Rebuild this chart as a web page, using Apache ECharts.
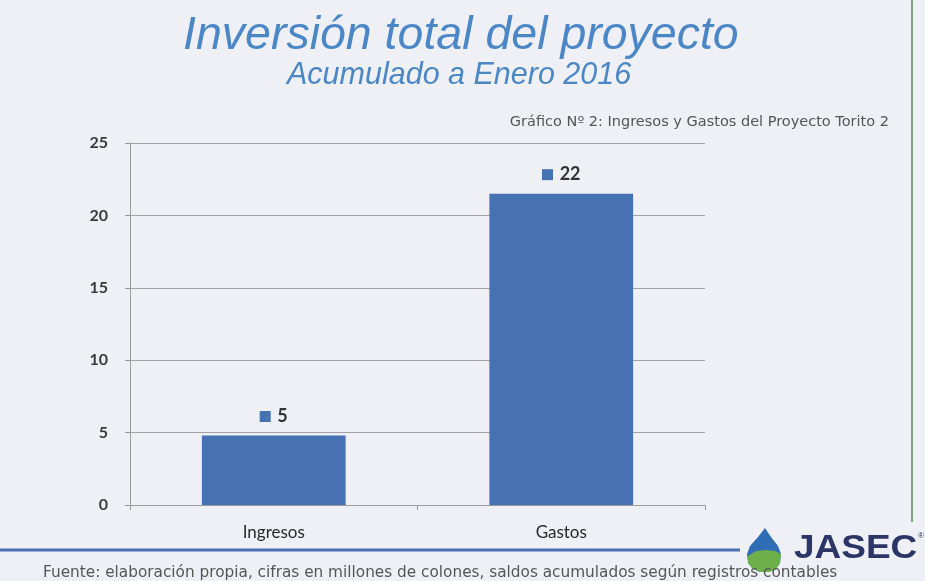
<!DOCTYPE html>
<html>
<head>
<meta charset="utf-8">
<script src="https://cdn.jsdelivr.net/npm/echarts@6/dist/echarts.min.js"></script>
<style>
html,body{margin:0;padding:0;background:#eef0f5;}
#chart{width:925px;height:581px;}
</style>
</head>
<body>
<div id="chart"></div>
<script>
const categories = ['Ingresos', 'Gastos'];
const values = [4.8, 21.5];
const yTicks = [0, 5, 10, 15, 20, 25];

const chart = echarts.init(document.getElementById('chart'));
const blue = '#4672b4';

chart.setOption({
  backgroundColor: '#eef0f5',
  animation: false,
  title: [
    {
      text: 'Inversión total del proyecto',
      left: 178, top: 8,
      textStyle: {fontFamily: 'Liberation Sans', fontStyle: 'italic', fontWeight: 'normal', fontSize: 46.5, color: '#4b86c6'}
    },
    {
      text: 'Acumulado a Enero 2016',
      left: 282, top: 56,
      textStyle: {fontFamily: 'Liberation Sans', fontStyle: 'italic', fontWeight: 'normal', fontSize: 30.5, color: '#4b86c6'}
    },
    {
      text: 'Gráfico Nº 2: Ingresos y Gastos del Proyecto Torito 2',
      right: 31, top: 110,
      textStyle: {fontFamily: 'DejaVu Sans', fontWeight: 'normal', fontSize: 14.5, color: '#555'}
    },
    {
      text: 'Fuente: elaboración propia, cifras en millones de colones, saldos acumulados según registros contables',
      left: 38, top: 561,
      textStyle: {fontFamily: 'DejaVu Sans', fontWeight: 'normal', fontSize: 15.3, color: '#555'}
    }
  ],
  grid: {left: 130, right: 220, top: 143, bottom: 76, containLabel: false},
  xAxis: {
    type: 'category',
    data: categories,
    axisLine: {show: true, lineStyle: {color: '#9a9a9a', width: 1}},
    axisTick: {show: true, alignWithLabel: false, length: 5, lineStyle: {color: '#9a9a9a'}},
    axisLabel: {fontFamily: 'Lato', fontSize: 17, color: '#2a2a2a', margin: 19}
  },
  yAxis: {
    type: 'value',
    min: yTicks[0], max: yTicks[yTicks.length - 1], interval: 5,
    axisLine: {show: true, lineStyle: {color: '#9a9a9a', width: 1}},
    axisTick: {show: true, length: 5, lineStyle: {color: '#9a9a9a'}},
    axisLabel: {fontFamily: 'Lato', fontSize: 16, fontWeight: 'bold', color: '#3a3a3a', margin: 22},
    splitLine: {show: true, lineStyle: {color: '#a3a3a3', width: 1}}
  },
  series: [{
    type: 'bar',
    data: values,
    barWidth: '50%',
    itemStyle: {color: blue},
    label: {
      show: true,
      position: 'top',
      distance: 10,
      formatter: p => '{sq|}  {v|' + Math.round(p.value) + '}',
      rich: {
        sq: {backgroundColor: blue, width: 11, height: 11},
        v: {fontFamily: 'Lato', fontSize: 18, fontWeight: 'bold', color: '#333'}
      }
    }
  }],
  graphic: [
    {type: 'line', shape: {x1: 912, y1: 0, x2: 912, y2: 522}, style: {stroke: '#7fa27f', lineWidth: 2}},
    {type: 'line', shape: {x1: 0, y1: 550, x2: 740, y2: 550}, style: {stroke: '#4a6fb2', lineWidth: 3}},
    {type: 'polygon', shape: {points: [[765,528],[758,537],[750,546],[747,554],[748,563],[753,569],[760,572],[769,572],[776,569],[780,563],[781,554],[778,546],[771,537]]}, style: {fill: '#2f6db5'}},
    {type: 'polygon', shape: {points: [[748,556],[756,551],[766,550],[775,551],[781,554],[780,563],[776,569],[769,572],[760,572],[753,569],[748,563]]}, style: {fill: '#6db04a'}},
    {type: 'text', x: 794, y: 532, scaleX: 1.12, style: {text: 'JASEC', font: 'bold 33px "Liberation Sans"', fill: '#2b3566'}},
    {type: 'text', x: 918, y: 532, style: {text: '®', font: '8px "Liberation Sans"', fill: '#2b3566'}}
  ]
});
</script>
</body>
</html>
